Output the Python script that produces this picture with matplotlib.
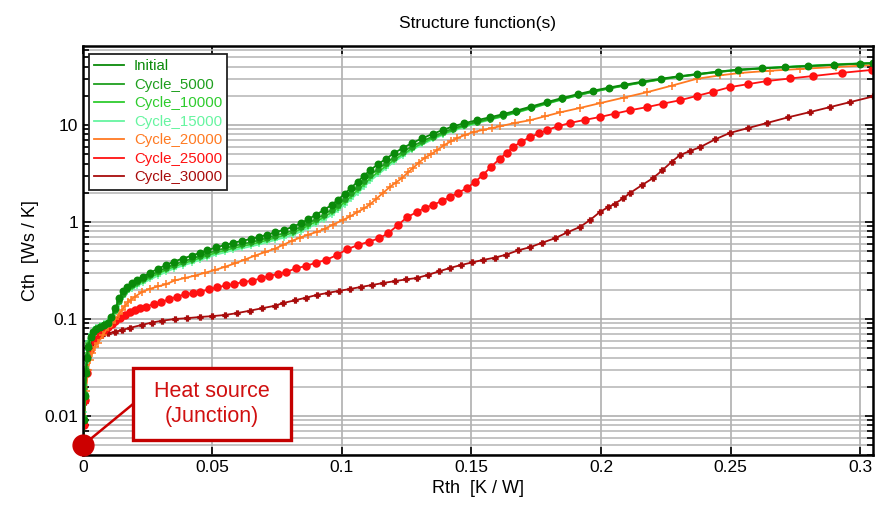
import matplotlib
matplotlib.use("Agg")
import matplotlib.pyplot as plt
from matplotlib.patches import Rectangle
from matplotlib.ticker import LogLocator, NullFormatter, FixedLocator

plt.rcParams['font.family'] = ['Liberation Sans', 'DejaVu Sans']

# shared Rth axis for the green curves [K/W]
rthGreen = [0, 0.0004, 0.0008, 0.0012, 0.0016, 0.002, 0.003, 0.004, 0.005, 0.0065,
	0.008, 0.0097, 0.011, 0.0125, 0.014, 0.0155, 0.017, 0.019, 0.021, 0.023,
	0.026, 0.029, 0.032, 0.035, 0.0385, 0.042, 0.045, 0.048, 0.0515, 0.055,
	0.058, 0.0615, 0.065, 0.068, 0.071, 0.074, 0.0775, 0.081, 0.084, 0.087,
	0.09, 0.093, 0.096, 0.0985, 0.101, 0.1035, 0.106, 0.1085, 0.111, 0.114,
	0.117, 0.12, 0.1235, 0.127, 0.131, 0.135, 0.139, 0.143, 0.147, 0.152,
	0.157, 0.162, 0.167, 0.173, 0.179, 0.185, 0.191, 0.197, 0.203, 0.209,
	0.216, 0.223, 0.23, 0.237, 0.245, 0.253, 0.262, 0.271, 0.28, 0.29,
	0.3, 0.305]
cthInitial = [0.005, 0.009, 0.016, 0.028, 0.04, 0.052, 0.065, 0.073, 0.078, 0.082,
	0.086, 0.091, 0.105, 0.13, 0.163, 0.193, 0.215, 0.235, 0.255, 0.272,
	0.3, 0.33, 0.36, 0.39, 0.42, 0.45, 0.48, 0.51, 0.55, 0.58,
	0.61, 0.64, 0.67, 0.7, 0.74, 0.78, 0.83, 0.89, 0.97, 1.07,
	1.19, 1.33, 1.5, 1.7, 1.95, 2.25, 2.6, 3.0, 3.45, 3.95,
	4.5, 5.1, 5.8, 6.5, 7.3, 8.1, 8.9, 9.7, 10.4, 11.2,
	12.0, 12.9, 14.0, 15.5, 17.2, 19.0, 20.8, 22.6, 24.3, 26.0,
	28.0, 30.0, 31.8, 33.5, 35.5, 37.2, 38.5, 39.6, 40.6, 41.8,
	43, 43.5]
cth5000 = [0.005, 0.0095, 0.017, 0.03, 0.042, 0.054, 0.066, 0.074, 0.079, 0.083,
	0.087, 0.092, 0.103, 0.125, 0.155, 0.183, 0.204, 0.222, 0.24, 0.256,
	0.281, 0.309, 0.336, 0.363, 0.39, 0.418, 0.445, 0.473, 0.51, 0.537,
	0.565, 0.592, 0.62, 0.648, 0.684, 0.72, 0.765, 0.815, 0.885, 0.97,
	1.07, 1.19, 1.34, 1.51, 1.73, 1.99, 2.3, 2.66, 3.07, 3.53,
	4.05, 4.62, 5.3, 6.0, 6.8, 7.6, 8.4, 9.2, 9.95, 10.8,
	11.6, 12.5, 13.6, 15.1, 16.8, 18.6, 20.4, 22.2, 23.9, 25.6,
	27.6, 29.6, 31.4, 33.2, 35.2, 36.9, 38.3, 39.5, 40.5, 41.7,
	42.9, 43.3]
cth10000 = [0.005, 0.01, 0.019, 0.032, 0.045, 0.056, 0.068, 0.075, 0.08, 0.084,
	0.088, 0.093, 0.101, 0.12, 0.148, 0.175, 0.196, 0.213, 0.23, 0.245,
	0.268, 0.294, 0.32, 0.346, 0.372, 0.398, 0.424, 0.45, 0.485, 0.51,
	0.537, 0.563, 0.59, 0.616, 0.65, 0.684, 0.727, 0.775, 0.84, 0.92,
	1.01, 1.12, 1.26, 1.41, 1.6, 1.84, 2.12, 2.45, 2.84, 3.28,
	3.78, 4.35, 5.0, 5.7, 6.5, 7.3, 8.1, 8.9, 9.7, 10.6,
	11.4, 12.3, 13.4, 14.9, 16.6, 18.4, 20.2, 22.0, 23.7, 25.4,
	27.4, 29.4, 31.3, 33.1, 35.1, 36.9, 38.3, 39.5, 40.6, 41.8,
	43, 43.4]
cth15000 = [0.005, 0.011, 0.021, 0.035, 0.048, 0.059, 0.07, 0.077, 0.082, 0.086,
	0.09, 0.095, 0.1, 0.116, 0.142, 0.168, 0.188, 0.204, 0.22, 0.234,
	0.256, 0.28, 0.305, 0.33, 0.355, 0.38, 0.405, 0.43, 0.463, 0.487,
	0.512, 0.537, 0.562, 0.587, 0.618, 0.65, 0.69, 0.735, 0.795, 0.87,
	0.955, 1.06, 1.18, 1.32, 1.5, 1.72, 1.98, 2.3, 2.67, 3.1,
	3.6, 4.15, 4.8, 5.5, 6.3, 7.1, 7.9, 8.7, 9.5, 10.4,
	11.3, 12.2, 13.3, 14.8, 16.5, 18.3, 20.2, 22.0, 23.8, 25.5,
	27.6, 29.7, 31.6, 33.5, 35.5, 37.3, 38.7, 39.9, 41, 42.2,
	43.4, 43.8]

rth20000 = [0, 0.00039, 0.00116, 0.00193, 0.0027, 0.00347, 0.00463, 0.00579, 0.00772, 0.00965,
	0.0112, 0.0124, 0.0139, 0.0151, 0.0162, 0.0174, 0.0185, 0.0201, 0.0228, 0.0259,
	0.029, 0.032, 0.0355, 0.0394, 0.0432, 0.0471, 0.051, 0.0548, 0.0587, 0.0625,
	0.0664, 0.0703, 0.0741, 0.0772, 0.0807, 0.0838, 0.0869, 0.0903, 0.0934, 0.0965,
	0.1004, 0.1031, 0.1058, 0.1085, 0.1108, 0.1131, 0.1158, 0.1185, 0.1208, 0.1232,
	0.1255, 0.1274, 0.1297, 0.132, 0.1344, 0.1367, 0.1394, 0.1421, 0.1444, 0.1475,
	0.151, 0.1544, 0.1579, 0.161, 0.1668, 0.1726, 0.1784, 0.1842, 0.1919, 0.1996,
	0.2089, 0.2178, 0.2274, 0.2371, 0.2459, 0.2537, 0.2653, 0.2768, 0.2907, 0.305]
cth20000 = [0.005, 0.009, 0.018, 0.03, 0.038, 0.045, 0.052, 0.057, 0.068, 0.083,
	0.092, 0.1, 0.112, 0.124, 0.137, 0.148, 0.158, 0.17, 0.19, 0.205,
	0.217, 0.228, 0.25, 0.265, 0.28, 0.3, 0.32, 0.345, 0.375, 0.41,
	0.45, 0.49, 0.53, 0.58, 0.64, 0.69, 0.74, 0.79, 0.85, 0.94,
	1.05, 1.14, 1.26, 1.38, 1.52, 1.72, 1.99, 2.3, 2.55, 2.85,
	3.25, 3.6, 4.1, 4.6, 5.0, 5.5, 6.2, 6.8, 7.3, 7.9,
	8.5, 8.9, 9.3, 9.7, 10.5, 11.2, 12.3, 13.5, 15, 16.8,
	19.2, 21.8, 25.5, 30, 32.5, 34.4, 36.3, 37.8, 39.7, 41.5]

rth25000 = [0, 0.00039, 0.00077, 0.00154, 0.0027, 0.00463, 0.00656, 0.00811, 0.00965, 0.0112,
	0.0124, 0.0143, 0.0162, 0.0181, 0.0201, 0.022, 0.0243, 0.0274, 0.0301, 0.0332,
	0.0363, 0.0394, 0.0425, 0.0452, 0.0486, 0.0517, 0.0552, 0.0583, 0.0618, 0.0653,
	0.0687, 0.0718, 0.0753, 0.0784, 0.0822, 0.0861, 0.09, 0.0938, 0.0981, 0.1019,
	0.1062, 0.1104, 0.1143, 0.1178, 0.1216, 0.1251, 0.129, 0.132, 0.1351, 0.1386,
	0.1417, 0.1448, 0.1483, 0.1514, 0.1544, 0.1575, 0.161, 0.1637, 0.166, 0.1691,
	0.1726, 0.1761, 0.1792, 0.1834, 0.188, 0.1938, 0.1996, 0.2054, 0.2112, 0.2178,
	0.2239, 0.2305, 0.2371, 0.2432, 0.2498, 0.2568, 0.2641, 0.273, 0.2819, 0.293,
	0.3046]
cth25000 = [0.005, 0.008, 0.0145, 0.028, 0.048, 0.061, 0.07, 0.077, 0.083, 0.089,
	0.095, 0.102, 0.11, 0.117, 0.124, 0.13, 0.134, 0.143, 0.149, 0.16,
	0.17, 0.18, 0.184, 0.191, 0.202, 0.212, 0.222, 0.229, 0.241, 0.248,
	0.263, 0.278, 0.291, 0.305, 0.333, 0.352, 0.381, 0.406, 0.457, 0.523,
	0.579, 0.627, 0.679, 0.765, 0.93, 1.12, 1.27, 1.4, 1.5, 1.65,
	1.81, 2.0, 2.24, 2.6, 3.05, 3.7, 4.5, 5.2, 5.9, 6.7,
	7.5, 8.2, 8.9, 9.7, 10.5, 11.3, 12.1, 13.1, 14.2, 15.3,
	16.6, 18, 20, 22, 24.6, 26.4, 28.4, 30.2, 32, 34.5,
	37]

rth30000 = [0, 0.00039, 0.00077, 0.00154, 0.00193, 0.0027, 0.00347, 0.00463, 0.00579, 0.00734,
	0.00965, 0.0124, 0.0151, 0.0181, 0.0228, 0.0266, 0.0305, 0.0355, 0.0402, 0.0452,
	0.0498, 0.0548, 0.0595, 0.0645, 0.0691, 0.0741, 0.0772, 0.0819, 0.0861, 0.0903,
	0.0946, 0.0988, 0.1031, 0.1073, 0.1116, 0.1158, 0.1205, 0.1247, 0.129, 0.1332,
	0.1375, 0.1417, 0.1459, 0.1502, 0.1544, 0.1591, 0.1633, 0.168, 0.1726, 0.1772,
	0.1822, 0.1869, 0.1919, 0.1958, 0.1996, 0.2027, 0.2054, 0.2085, 0.2112, 0.2158,
	0.2201, 0.2236, 0.2274, 0.2305, 0.2344, 0.2382, 0.244, 0.2498, 0.2568, 0.2641,
	0.2722, 0.2807, 0.2884, 0.2961, 0.305]
cth30000 = [0.005, 0.008, 0.014, 0.03, 0.042, 0.05, 0.056, 0.061, 0.065, 0.068,
	0.071, 0.074, 0.077, 0.081, 0.087, 0.092, 0.096, 0.1, 0.102, 0.105,
	0.107, 0.11, 0.115, 0.122, 0.129, 0.137, 0.146, 0.156, 0.166, 0.177,
	0.186, 0.195, 0.204, 0.214, 0.224, 0.235, 0.246, 0.256, 0.265, 0.285,
	0.31, 0.336, 0.36, 0.383, 0.406, 0.43, 0.46, 0.51, 0.55, 0.61,
	0.68, 0.78, 0.89, 1.05, 1.27, 1.42, 1.55, 1.75, 1.99, 2.4,
	2.84, 3.4, 4.2, 4.9, 5.4, 5.9, 7.1, 8.3, 9.3, 10.5,
	12, 13.6, 15.3, 17.2, 19.7]

xTicks = [0, 0.05, 0.1, 0.15, 0.2, 0.25, 0.3]
xTickLabels = ['0', '0.05', '0.1', '0.15', '0.2', '0.25', '0.3']
yTicks = [0.01, 0.1, 1, 10]
yTickLabels = ['0.01', '0.1', '1', '10']

series = [
	("Initial", rthGreen, cthInitial, "#0a8a0a", "o", 4.6),
	("Cycle_5000", rthGreen, cth5000, "#1f9f1f", "o", 3.6),
	("Cycle_10000", rthGreen, cth10000, "#2ecc2e", "+", 4),
	("Cycle_15000", rthGreen, cth15000, "#66f5a0", "+", 4.5),
	("Cycle_20000", rth20000, cth20000, "#ff7a22", "+", 6),
	("Cycle_25000", rth25000, cth25000, "#ff1111", "o", 5),
	("Cycle_30000", rth30000, cth30000, "#a80c0c", "P", 3.5),
]

fig = plt.figure(figsize=(8.77, 5.13), dpi=100)
ax = fig.add_axes([0.0946, 0.113, 0.9008, 0.797])

for name, xs, ys, col, mk, ms in series[::-1]:
	ax.plot(xs, ys, color=col, lw=1.3, marker=mk, ms=ms, mew=1.1, label=name)

ax.set_yscale('log')
ax.set_xlim(0, 0.305)
ax.set_ylim(0.00396, 65)

ax.xaxis.set_major_locator(FixedLocator(xTicks))
ax.set_xticklabels(xTickLabels)
ax.yaxis.set_major_locator(FixedLocator(yTicks))
ax.set_yticklabels(yTickLabels)
ax.yaxis.set_minor_locator(LogLocator(base=10, subs=range(2, 10)))
ax.yaxis.set_minor_formatter(NullFormatter())

ax.grid(True, which='major', color='#a8a8a8', lw=1.1)
ax.grid(True, which='minor', axis='y', color='#b4b4b4', lw=1.1)
ax.set_axisbelow(True)
ax.tick_params(which='both', direction='in', top=True, right=True, labelsize=12.5, width=1.2)
ax.tick_params(which='major', length=6)
ax.tick_params(which='minor', length=4)
for s in ax.spines.values():
	s.set_linewidth(1.8)

ax.set_title('Structure function(s)', fontsize=12.5, pad=13)
ax.set_xlabel('Rth  [K / W]', fontsize=13)
ax.set_ylabel('Cth  [Ws / K]', fontsize=13)

handles, labels = ax.get_legend_handles_labels()
handles = handles[::-1]
labels = labels[::-1]
leg = ax.legend(handles, labels, loc='upper left', bbox_to_anchor=(0.0076, 0.9804), fontsize=10.8,
	frameon=True, fancybox=False, framealpha=1, edgecolor='#222222', borderpad=0.35,
	labelspacing=0.3, handlelength=2.0, handletextpad=0.65, borderaxespad=0)
leg.get_frame().set_linewidth(1.3)
for h in leg.get_lines():
	h.set_marker('')
for t, (name, xs, ys, col, mk, ms) in zip(leg.get_texts(), series):
	t.set_color(col)

# heat source marker and callout box
ax.plot([0], [0.005], 'o', color='#cc0000', ms=15, clip_on=False, zorder=10)
box = Rectangle((0.0633, 0.0367), 0.2, 0.176, transform=ax.transAxes, fc='white',
	ec='#c40000', lw=2.4, zorder=11)
ax.add_patch(box)
ax.text(0.1633, 0.1247, 'Heat source\n(Junction)', transform=ax.transAxes, ha='center', va='center',
	fontsize=15.5, color='#d01010', linespacing=1.25, zorder=12)
ax.annotate('', xy=(0, 0.005), xycoords='data', xytext=(0.0633, 0.1247), textcoords='axes fraction',
	arrowprops=dict(arrowstyle='-', color='#cc0000', lw=1.8, shrinkA=0, shrinkB=0), zorder=9)

plt.savefig('out.png', dpi=100)
